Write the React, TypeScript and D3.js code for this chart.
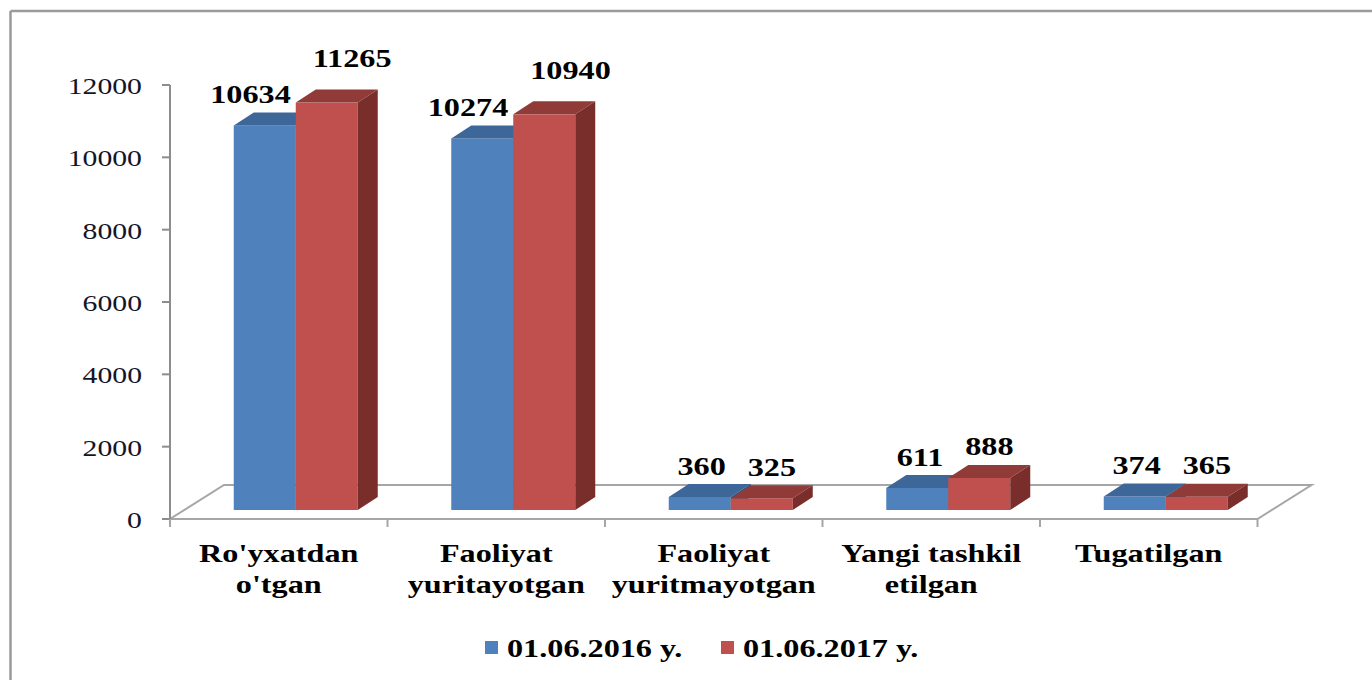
import React from "react";
import * as d3 from "d3";

const categories: string[][] = [
  ["Ro'yxatdan", "o'tgan"],
  ["Faoliyat", "yuritayotgan"],
  ["Faoliyat", "yuritmayotgan"],
  ["Yangi tashkil", "etilgan"],
  ["Tugatilgan"],
];
const values2016 = [10634, 10274, 360, 611, 374];
const values2017 = [11265, 10940, 325, 888, 365];
const seriesNames = ["01.06.2016 y.", "01.06.2017 y."];
const yTicks = [0, 2000, 4000, 6000, 8000, 10000, 12000];

const W = 1372;
const H = 680;
const FONT = "'Liberation Serif', 'Times New Roman', serif";
const SX = 1.24;

const colors = [
  { front: "#4F81BD", top: "#3D6699", side: "#30527C" },
  { front: "#C0504D", top: "#913B39", side: "#792E2C" },
];

export default function App() {
  const frontLeft = 170;
  const frontRight = 1257.5;
  const floorY = 519;
  const backDx = 54;
  const backDy = -34;
  const barShiftX = 17;
  const barBaseY = 510;
  const depthDx = 20;
  const depthDy = -13;

  const yAxis = d3.scaleLinear().domain([0, 12000]).range([floorY, 85]);
  const yBar = d3.scaleLinear().domain([0, 12000]).range([barBaseY, barBaseY - (floorY - 85)]);
  const xBand = d3
    .scaleBand<number>()
    .domain(categories.map((_, i) => i))
    .range([frontLeft, frontRight])
    .paddingInner(0)
    .paddingOuter(0);
  const bw = xBand.bandwidth();
  const barW = 62;
  const series = [values2016, values2017];

  const bars: React.ReactNode[] = [];
  const labels: React.ReactNode[] = [];

  categories.forEach((_, ci) => {
    const start = (xBand(ci) as number) + (bw - 2 * barW) / 2 + barShiftX;
    series.forEach((vals, si) => {
      const v = vals[ci];
      const x = start + si * barW;
      const yTop = yBar(v);
      const c = colors[si];
      bars.push(
        <g key={`b${ci}-${si}`}>
          <rect x={x} y={yTop} width={barW} height={barBaseY - yTop} fill={c.front} />
          <polygon
            points={`${x},${yTop} ${x + depthDx},${yTop + depthDy} ${x + barW + depthDx},${yTop + depthDy} ${x + barW},${yTop}`}
            fill={c.top}
          />
          <polygon
            points={`${x + barW},${yTop} ${x + barW + depthDx},${yTop + depthDy} ${x + barW + depthDx},${barBaseY + depthDy} ${x + barW},${barBaseY}`}
            fill={c.side}
          />
        </g>
      );
      const backTop = yTop + depthDy;
      const cx = x + barW / 2;
      if (si === 0) {
        labels.push(
          <text
            key={`l${ci}-${si}`}
            transform={`translate(${cx + 26},${backTop - 9}) scale(${SX},1)`}
            textAnchor="end"
            fontFamily={FONT}
            fontWeight="bold"
            fontSize={26}
            fill="#000"
          >
            {v}
          </text>
        );
      } else {
        labels.push(
          <text
            key={`l${ci}-${si}`}
            transform={`translate(${cx - 14},${backTop - 9 - 15 * (v / 12000)}) scale(${SX},1)`}
            textAnchor="start"
            fontFamily={FONT}
            fontWeight="bold"
            fontSize={26}
            fill="#000"
          >
            {v}
          </text>
        );
      }
    });
  });

  const lineColor = "#A6A6A6";

  return (
    <div style={{ position: "absolute", left: 0, top: 0, width: W, height: H, background: "#fff" }}>
      <svg width={W} height={H} style={{ display: "block" }}>
        <rect x={0} y={0} width={W} height={H} fill="#fff" />
        {/* frame */}
        <line x1={10.5} y1={11} x2={10.5} y2={H} stroke="#9a9a9a" strokeWidth={2.5} />
        <line x1={10.5} y1={11} x2={W} y2={11} stroke="#9a9a9a" strokeWidth={2.5} />

        {/* floor */}
        <polygon
          points={`${frontLeft},${floorY} ${frontRight},${floorY} ${frontRight + backDx},${floorY + backDy} ${frontLeft + backDx},${floorY + backDy}`}
          fill="none"
          stroke={lineColor}
          strokeWidth={2}
        />

        {/* y axis */}
        <line x1={frontLeft} y1={yAxis(12000)} x2={frontLeft} y2={floorY + 8} stroke="#8c8c8c" strokeWidth={2} />
        {yTicks.map((t) => (
          <g key={`t${t}`}>
            <line x1={frontLeft - 8} y1={yAxis(t)} x2={frontLeft} y2={yAxis(t)} stroke="#8c8c8c" strokeWidth={2} />
            <text
              transform={`translate(${frontLeft - 28},${yAxis(t) + 9}) scale(${SX},1)`}
              textAnchor="end"
              fontFamily={FONT}
              fontSize={24}
              fill="#141428"
            >
              {t}
            </text>
          </g>
        ))}

        {/* category ticks */}
        {d3.range(categories.length + 1).map((i) => {
          const x = frontLeft + i * bw;
          return <line key={`ct${i}`} x1={x} y1={floorY} x2={x} y2={floorY + 8} stroke={lineColor} strokeWidth={2} />;
        })}

        {bars}
        {labels}

        {/* category labels */}
        {categories.map((lines, ci) => {
          const cx = (xBand(ci) as number) + bw / 2;
          return lines.map((ln, li) => (
            <text
              key={`c${ci}-${li}`}
              transform={`translate(${cx},${562 + li * 31}) scale(${SX},1)`}
              textAnchor="middle"
              fontFamily={FONT}
              fontWeight="bold"
              fontSize={26}
              fill="#000"
            >
              {ln}
            </text>
          ));
        })}

        {/* legend */}
        {seriesNames.map((name, si) => {
          const lx = si === 0 ? 485 : 721;
          return (
            <g key={`lg${si}`}>
              <rect x={lx} y={641} width={13} height={13} fill={colors[si].front} />
              <text
                transform={`translate(${lx + 22},657) scale(${SX},1)`}
                fontFamily={FONT}
                fontWeight="bold"
                fontSize={26}
                fill="#000"
              >
                {name}
              </text>
            </g>
          );
        })}
      </svg>
    </div>
  );
}
